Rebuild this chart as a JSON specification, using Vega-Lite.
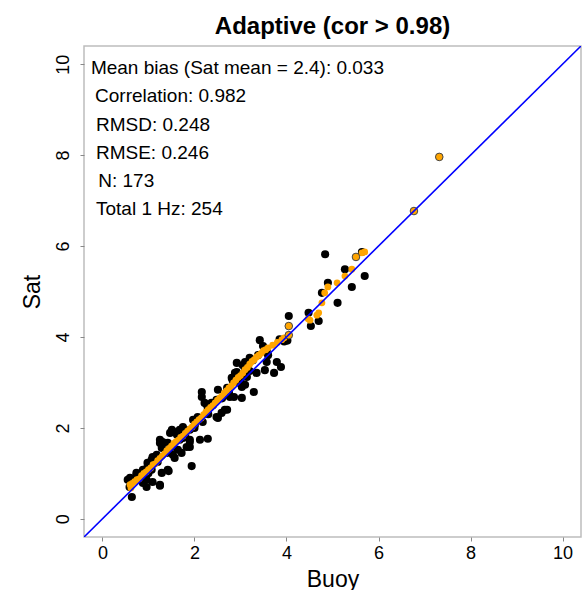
{
  "$schema": "https://vega.github.io/schema/vega-lite/v6.json",
  "width": 497,
  "height": 491,
  "autosize": {"type": "none"},
  "padding": {"left": 84, "top": 46, "right": 3, "bottom": 53},
  "background": "white",
  "config": {
    "font": "Liberation Sans",
    "view": {"stroke": "#bdbdbd", "strokeWidth": 1.5},
    "axis": {"grid": false, "domain": false, "tickColor": "#888888", "tickSize": 4, "labelColor": "black", "labelFontSize": 18, "titleColor": "black", "titleFontSize": 23, "titleFontWeight": "normal"}
  },
  "title": {"text": "Adaptive (cor > 0.98)", "fontSize": 24, "fontWeight": "bold", "color": "black", "anchor": "middle", "offset": 7},
  "datasets": {
    "black": [
      {"buoy": 4.84, "sat": 5.82}, {"buoy": 5.64, "sat": 5.87}, {"buoy": 5.70, "sat": 5.34}, {"buoy": 5.27, "sat": 5.49},
      {"buoy": 5.42, "sat": 5.10}, {"buoy": 5.11, "sat": 4.75}, {"buoy": 4.77, "sat": 4.97}, {"buoy": 4.90, "sat": 5.19},
      {"buoy": 4.48, "sat": 4.53}, {"buoy": 4.70, "sat": 4.35}, {"buoy": 4.05, "sat": 4.46}, {"buoy": 4.53, "sat": 4.24},
      {"buoy": 3.42, "sat": 3.93}, {"buoy": 3.49, "sat": 3.80}, {"buoy": 3.57, "sat": 3.71}, {"buoy": 3.79, "sat": 3.45},
      {"buoy": 3.88, "sat": 3.34}, {"buoy": 3.73, "sat": 3.21}, {"buoy": 3.57, "sat": 3.45}, {"buoy": 3.35, "sat": 3.21},
      {"buoy": 3.20, "sat": 3.54}, {"buoy": 3.10, "sat": 3.45}, {"buoy": 2.92, "sat": 3.43}, {"buoy": 2.92, "sat": 3.23},
      {"buoy": 2.83, "sat": 3.05}, {"buoy": 3.14, "sat": 3.12}, {"buoy": 3.29, "sat": 2.79}, {"buoy": 3.03, "sat": 2.90},
      {"buoy": 3.03, "sat": 2.66}, {"buoy": 2.86, "sat": 2.68}, {"buoy": 2.71, "sat": 2.88}, {"buoy": 2.51, "sat": 2.84},
      {"buoy": 2.48, "sat": 2.62}, {"buoy": 2.71, "sat": 2.40}, {"buoy": 2.59, "sat": 2.33}, {"buoy": 2.48, "sat": 2.24},
      {"buoy": 2.16, "sat": 2.79}, {"buoy": 2.16, "sat": 2.68}, {"buoy": 2.27, "sat": 2.51}, {"buoy": 2.07, "sat": 2.24},
      {"buoy": 2.18, "sat": 2.13}, {"buoy": 1.90, "sat": 1.96}, {"buoy": 1.75, "sat": 2.02}, {"buoy": 1.62, "sat": 1.91},
      {"buoy": 1.47, "sat": 1.89}, {"buoy": 1.42, "sat": 1.67}, {"buoy": 1.25, "sat": 1.67}, {"buoy": 1.29, "sat": 1.56},
      {"buoy": 1.68, "sat": 1.74}, {"buoy": 1.83, "sat": 1.58}, {"buoy": 1.90, "sat": 1.74}, {"buoy": 2.12, "sat": 1.74},
      {"buoy": 2.29, "sat": 1.76}, {"buoy": 1.94, "sat": 1.16}, {"buoy": 1.44, "sat": 1.05}, {"buoy": 1.25, "sat": 0.73},
      {"buoy": 1.07, "sat": 1.08}, {"buoy": 0.98, "sat": 1.23}, {"buoy": 0.92, "sat": 1.08}, {"buoy": 1.09, "sat": 1.36},
      {"buoy": 1.18, "sat": 1.41}, {"buoy": 0.96, "sat": 0.86}, {"buoy": 0.81, "sat": 0.86}, {"buoy": 0.60, "sat": 0.90},
      {"buoy": 0.55, "sat": 0.86}, {"buoy": 0.64, "sat": 0.48}, {"buoy": 0.74, "sat": 1.01}, {"buoy": 1.53, "sat": 1.41},
      {"buoy": 1.64, "sat": 1.52}, {"buoy": 1.51, "sat": 1.58}, {"buoy": 0.59, "sat": 0.70}, {"buoy": 0.88, "sat": 1.08},
      {"buoy": 0.98, "sat": 1.14}, {"buoy": 1.09, "sat": 0.81}, {"buoy": 1.25, "sat": 0.75}, {"buoy": 1.29, "sat": 1.01},
      {"buoy": 1.42, "sat": 1.08}, {"buoy": 1.62, "sat": 1.85}, {"buoy": 1.68, "sat": 1.96}, {"buoy": 1.90, "sat": 1.58},
      {"buoy": 2.01, "sat": 2.07}, {"buoy": 1.57, "sat": 1.34}, {"buoy": 1.72, "sat": 1.45}, {"buoy": 1.07, "sat": 1.30},
      {"buoy": 0.74, "sat": 0.97}, {"buoy": 0.88, "sat": 0.79}, {"buoy": 0.96, "sat": 0.70}, {"buoy": 2.88, "sat": 3.21},
      {"buoy": 2.81, "sat": 3.10}, {"buoy": 3.05, "sat": 3.38}, {"buoy": 2.77, "sat": 2.68}, {"buoy": 2.22, "sat": 2.55},
      {"buoy": 2.37, "sat": 2.55}, {"buoy": 2.29, "sat": 2.44}, {"buoy": 2.51, "sat": 2.22}, {"buoy": 2.66, "sat": 2.40},
      {"buoy": 1.97, "sat": 2.18}, {"buoy": 1.51, "sat": 1.96}, {"buoy": 1.31, "sat": 1.69}, {"buoy": 1.25, "sat": 1.74},
      {"buoy": 1.90, "sat": 1.69}, {"buoy": 1.75, "sat": 1.78}, {"buoy": 3.27, "sat": 3.49}, {"buoy": 3.10, "sat": 3.32},
      {"buoy": 3.53, "sat": 3.27}, {"buoy": 3.38, "sat": 3.60}, {"buoy": 2.98, "sat": 2.99}, {"buoy": 3.10, "sat": 2.95},
      {"buoy": 4.02, "sat": 3.92}, {"buoy": 3.95, "sat": 3.90}, {"buoy": 3.85, "sat": 3.95}, {"buoy": 2.40, "sat": 2.50},
      {"buoy": 2.60, "sat": 2.65}, {"buoy": 2.30, "sat": 2.30}, {"buoy": 2.00, "sat": 2.00}, {"buoy": 1.80, "sat": 1.85},
      {"buoy": 1.20, "sat": 1.25}, {"buoy": 1.00, "sat": 1.00}, {"buoy": 0.85, "sat": 0.92}, {"buoy": 1.40, "sat": 1.45},
      {"buoy": 3.20, "sat": 3.25}, {"buoy": 3.60, "sat": 3.60}, {"buoy": 2.75, "sat": 2.78}, {"buoy": 3.00, "sat": 3.05}
    ],
    "orange": [
      {"buoy": 0.62, "sat": 0.68}, {"buoy": 0.65, "sat": 0.78}, {"buoy": 0.70, "sat": 0.82}, {"buoy": 0.75, "sat": 0.86},
      {"buoy": 0.80, "sat": 0.88}, {"buoy": 0.85, "sat": 0.95}, {"buoy": 0.90, "sat": 1.00}, {"buoy": 0.95, "sat": 1.03},
      {"buoy": 1.00, "sat": 1.08}, {"buoy": 1.05, "sat": 1.12}, {"buoy": 1.10, "sat": 1.19}, {"buoy": 1.15, "sat": 1.21},
      {"buoy": 1.20, "sat": 1.28}, {"buoy": 1.25, "sat": 1.33}, {"buoy": 1.30, "sat": 1.38}, {"buoy": 1.35, "sat": 1.43},
      {"buoy": 1.40, "sat": 1.50}, {"buoy": 1.45, "sat": 1.55}, {"buoy": 1.50, "sat": 1.60}, {"buoy": 1.55, "sat": 1.66},
      {"buoy": 1.60, "sat": 1.70}, {"buoy": 1.65, "sat": 1.73}, {"buoy": 1.70, "sat": 1.79}, {"buoy": 1.75, "sat": 1.82},
      {"buoy": 1.80, "sat": 1.88}, {"buoy": 1.85, "sat": 1.93}, {"buoy": 1.90, "sat": 1.98}, {"buoy": 1.95, "sat": 2.02},
      {"buoy": 2.00, "sat": 2.08}, {"buoy": 2.05, "sat": 2.13}, {"buoy": 2.10, "sat": 2.18}, {"buoy": 2.15, "sat": 2.22},
      {"buoy": 2.20, "sat": 2.29}, {"buoy": 2.25, "sat": 2.35}, {"buoy": 2.30, "sat": 2.40}, {"buoy": 2.35, "sat": 2.45},
      {"buoy": 2.40, "sat": 2.49}, {"buoy": 2.45, "sat": 2.55}, {"buoy": 2.50, "sat": 2.61}, {"buoy": 2.55, "sat": 2.66},
      {"buoy": 2.60, "sat": 2.70}, {"buoy": 2.65, "sat": 2.77}, {"buoy": 2.70, "sat": 2.82}, {"buoy": 2.75, "sat": 2.88},
      {"buoy": 2.80, "sat": 2.92}, {"buoy": 2.85, "sat": 2.99}, {"buoy": 2.90, "sat": 3.05}, {"buoy": 2.95, "sat": 3.11},
      {"buoy": 3.00, "sat": 3.15}, {"buoy": 3.05, "sat": 3.21}, {"buoy": 3.10, "sat": 3.28}, {"buoy": 3.15, "sat": 3.33},
      {"buoy": 3.20, "sat": 3.40}, {"buoy": 3.25, "sat": 3.46}, {"buoy": 3.30, "sat": 3.50}, {"buoy": 3.35, "sat": 3.56},
      {"buoy": 3.40, "sat": 3.60}, {"buoy": 3.45, "sat": 3.64}, {"buoy": 3.50, "sat": 3.70}, {"buoy": 3.55, "sat": 3.72},
      {"buoy": 3.60, "sat": 3.76}, {"buoy": 3.70, "sat": 3.82}, {"buoy": 3.80, "sat": 3.88}, {"buoy": 3.90, "sat": 3.94},
      {"buoy": 3.95, "sat": 3.98}, {"buoy": 5.70, "sat": 5.87}, {"buoy": 5.64, "sat": 5.85}, {"buoy": 5.42, "sat": 5.49},
      {"buoy": 5.27, "sat": 5.34}, {"buoy": 5.10, "sat": 5.19}, {"buoy": 4.90, "sat": 5.10}, {"buoy": 4.83, "sat": 4.97},
      {"buoy": 4.77, "sat": 4.75}, {"buoy": 4.70, "sat": 4.53}, {"buoy": 4.66, "sat": 4.48}, {"buoy": 4.51, "sat": 4.37},
      {"buoy": 4.47, "sat": 4.40}, {"buoy": 0.60, "sat": 0.75}
    ],
    "orangeRing": [
      {"buoy": 6.77, "sat": 6.77}, {"buoy": 7.32, "sat": 7.96}, {"buoy": 5.51, "sat": 5.76},
      {"buoy": 4.05, "sat": 4.24}, {"buoy": 4.05, "sat": 4.04}
    ],
    "oneToOne": [{"x": -0.4, "y": -0.4, "x2": 10.4, "y2": 10.4}],
    "stats": [
      {"label": "Mean bias (Sat mean = 2.4): 0.033", "tx": -0.25, "ty": 9.91},
      {"label": "Correlation: 0.982", "tx": -0.16, "ty": 9.30},
      {"label": "RMSD: 0.248", "tx": -0.14, "ty": 8.66},
      {"label": "RMSE: 0.246", "tx": -0.14, "ty": 8.04},
      {"label": "N: 173", "tx": -0.09, "ty": 7.43},
      {"label": "Total 1 Hz: 254", "tx": -0.14, "ty": 6.81}
    ]
  },
  "layer": [
    {
      "data": {"name": "black"},
      "mark": {"type": "circle", "color": "black", "size": 66, "opacity": 1, "clip": true},
      "encoding": {
        "x": {"field": "buoy", "type": "quantitative", "scale": {"domain": [-0.4, 10.4], "nice": false, "zero": false},
              "axis": {"title": "Buoy", "values": [0, 2, 4, 6, 8, 10], "labelPadding": 3, "titlePadding": 6}},
        "y": {"field": "sat", "type": "quantitative", "scale": {"domain": [-0.4, 10.4], "nice": false, "zero": false},
              "axis": {"title": "Sat", "values": [0, 2, 4, 6, 8, 10], "labelAngle": -90, "labelAlign": "center", "labelBaseline": "bottom", "labelPadding": 8, "titlePadding": 10}}
      }
    },
    {
      "data": {"name": "orange"},
      "mark": {"type": "circle", "color": "#FFA500", "size": 46, "opacity": 1, "clip": true},
      "encoding": {
        "x": {"field": "buoy", "type": "quantitative"},
        "y": {"field": "sat", "type": "quantitative"}
      }
    },
    {
      "data": {"name": "orangeRing"},
      "mark": {"type": "point", "shape": "circle", "filled": true, "fill": "#FFA500", "stroke": "#444444", "strokeWidth": 1, "size": 58, "opacity": 1, "clip": true},
      "encoding": {
        "x": {"field": "buoy", "type": "quantitative"},
        "y": {"field": "sat", "type": "quantitative"}
      }
    },
    {
      "data": {"name": "oneToOne"},
      "mark": {"type": "rule", "color": "#0000FF", "strokeWidth": 1.6, "clip": true},
      "encoding": {
        "x": {"field": "x", "type": "quantitative"},
        "y": {"field": "y", "type": "quantitative"},
        "x2": {"field": "x2"},
        "y2": {"field": "y2"}
      }
    },
    {
      "data": {"name": "stats"},
      "mark": {"type": "text", "align": "left", "baseline": "middle", "fontSize": 19, "color": "black"},
      "encoding": {
        "x": {"field": "tx", "type": "quantitative"},
        "y": {"field": "ty", "type": "quantitative"},
        "text": {"field": "label"}
      }
    }
  ]
}
